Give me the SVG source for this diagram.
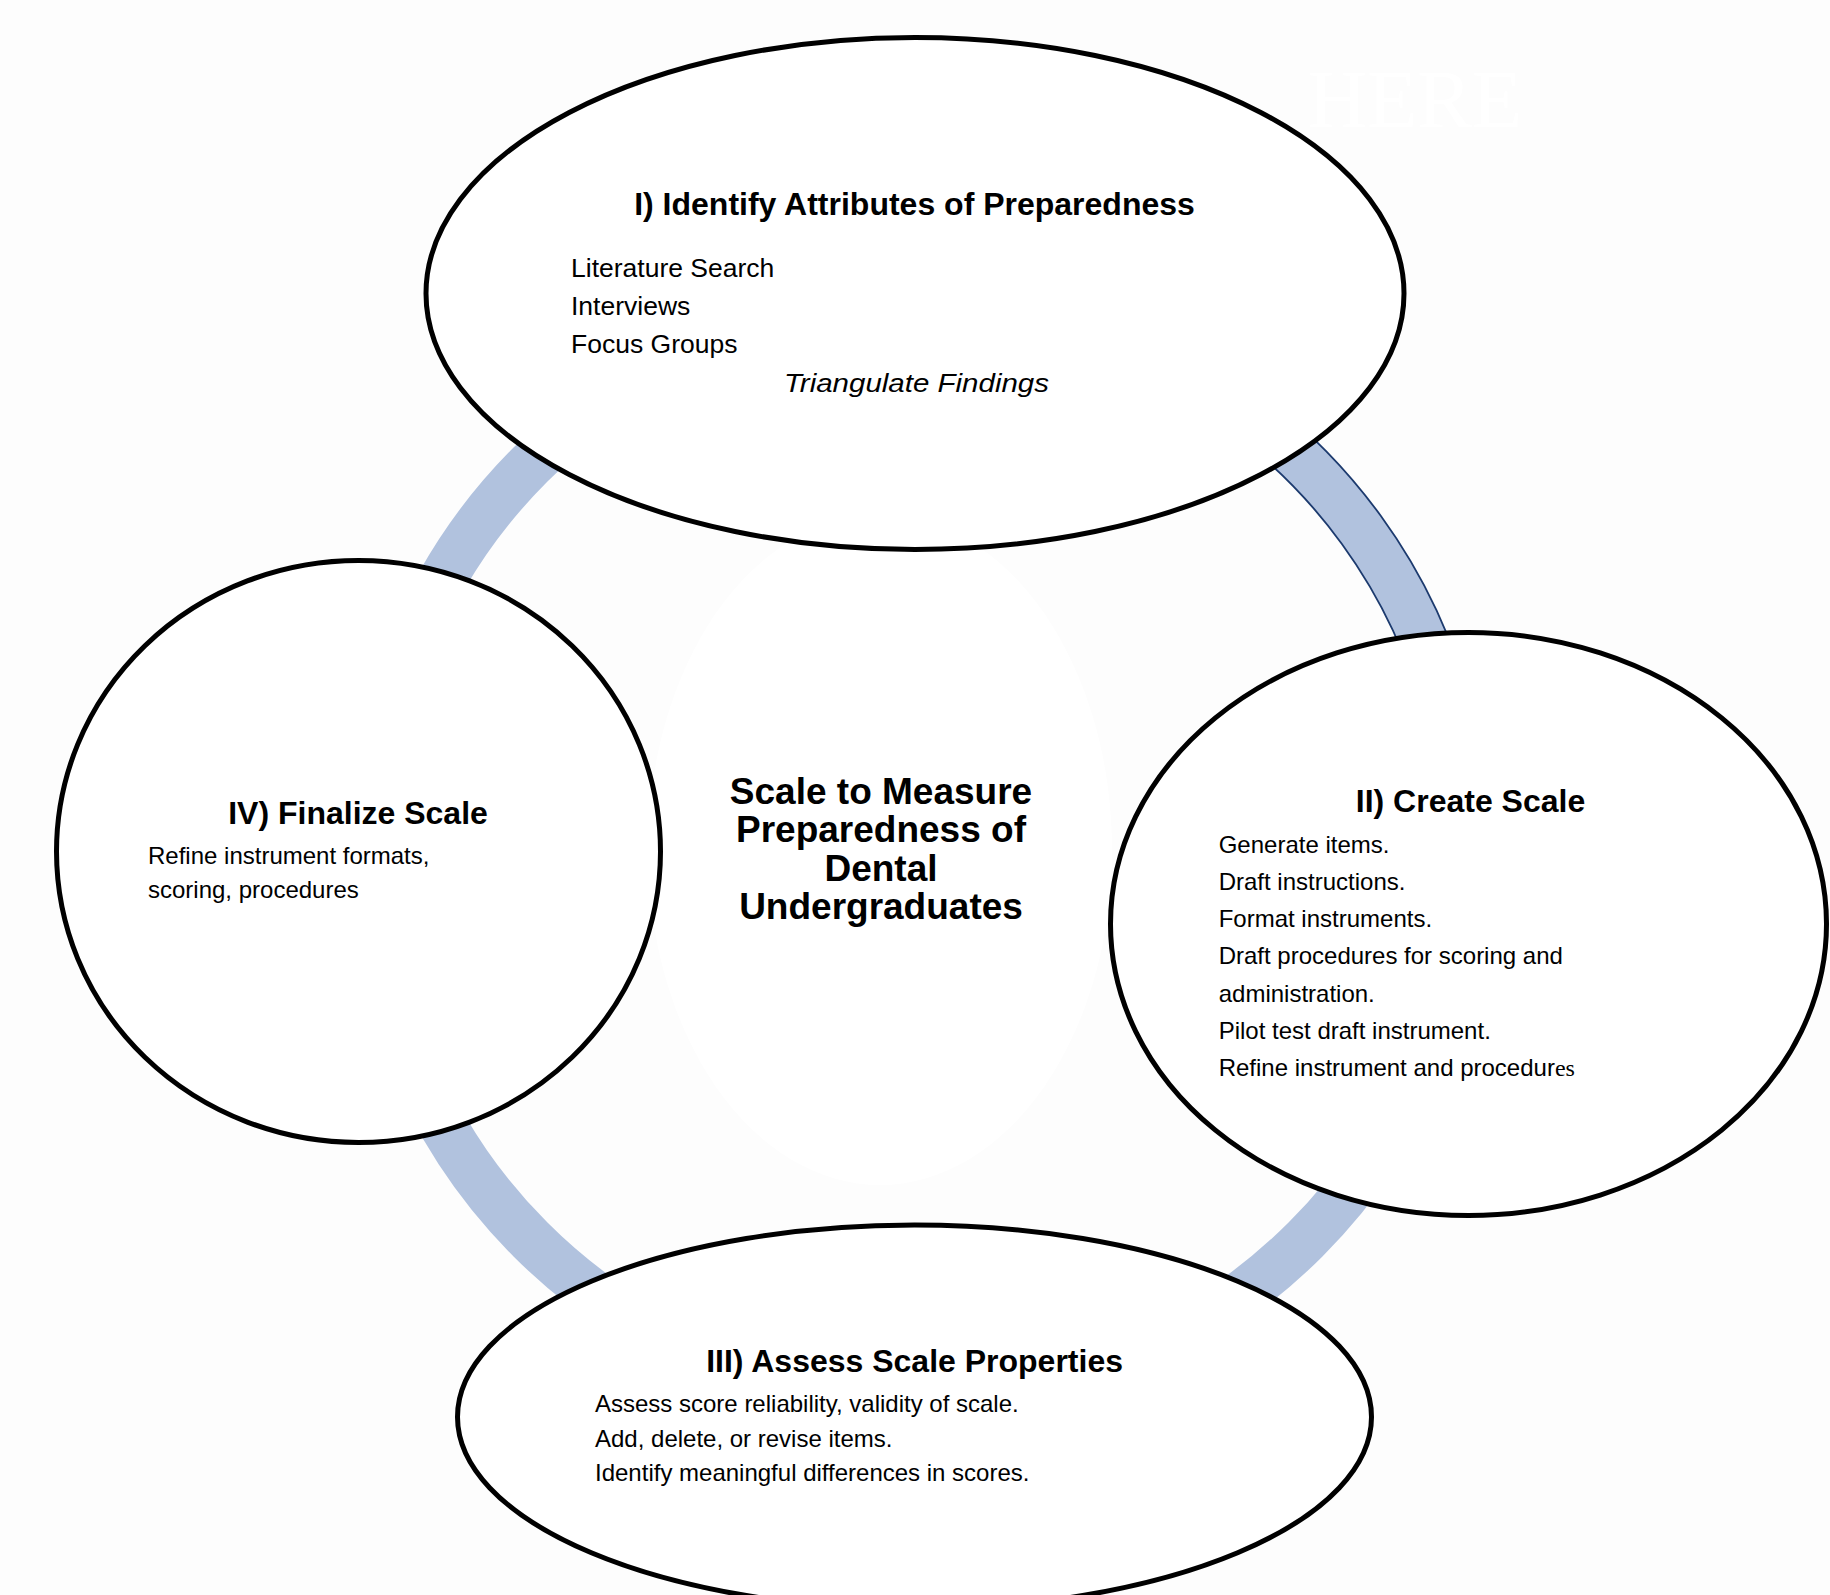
<svg xmlns="http://www.w3.org/2000/svg" width="1830" height="1595" viewBox="0 0 1830 1595">
  <style>
    .node { fill: #ffffff; stroke: #000000; stroke-width: 5; }
    .title { font-family: "Liberation Sans", Arial, sans-serif; font-weight: bold; font-size: 32px; fill: #000; text-anchor: middle; }
    .body { font-family: "Liberation Sans", Arial, sans-serif; font-size: 24px; fill: #000; }
    .body1 { font-family: "Liberation Sans", Arial, sans-serif; font-size: 26.5px; fill: #000; }
    .center { font-family: "Liberation Sans", Arial, sans-serif; font-weight: bold; font-size: 37px; fill: #000; text-anchor: middle; }
    .ring { fill: none; stroke: #b1c2de; stroke-width: 48; }
    .ring-edge { fill: none; stroke: #1c3a6e; stroke-width: 1.8; }
  </style>
  <rect x="0" y="0" width="1830" height="1595" fill="#fdfdfd"/>
  <text x="1308" y="127" font-family="'Liberation Serif', 'Times New Roman', serif" font-size="82" fill="#ffffff">HERE</text>

  <g id="hub">
    <ellipse cx="880" cy="850" rx="232" ry="335" fill="#ffffff"/>
  </g>

  <g id="connectors">
    <circle class="ring" cx="918" cy="852" r="548"/>
    <path class="ring-edge" d="M 1221.1 366.9 A 572 572 0 0 1 1473.0 713.6"/>
    <path class="ring-edge" d="M 1195.7 407.6 A 524 524 0 0 1 1426.4 725.2"/>
  </g>

  <g id="center-label">
    <text class="center" x="881" y="804">Scale to Measure</text>
    <text class="center" x="881" y="842">Preparedness of</text>
    <text class="center" x="881" y="880.5">Dental</text>
    <text class="center" x="881" y="918.5">Undergraduates</text>
  </g>

  <g id="node-1">
    <ellipse class="node" cx="915" cy="293.5" rx="489" ry="256"/>
    <text class="title" x="914.5" y="215">I) Identify Attributes of Preparedness</text>
    <text class="body1" x="571" y="276.5">Literature Search</text>
    <text class="body1" x="571" y="314.5">Interviews</text>
    <text class="body1" x="571" y="353">Focus Groups</text>
    <text class="body1" x="784" y="392" font-style="italic" font-size="31" textLength="265" lengthAdjust="spacingAndGlyphs">Triangulate Findings</text>
  </g>

  <g id="node-2">
    <ellipse class="node" cx="1468.5" cy="924" rx="358" ry="291.5"/>
    <text class="title" x="1470.5" y="812">II) Create Scale</text>
    <text class="body" x="1218.7" y="852.5">Generate items.</text>
    <text class="body" x="1218.7" y="889.5">Draft instructions.</text>
    <text class="body" x="1218.7" y="926.5">Format instruments.</text>
    <text class="body" x="1218.7" y="964">Draft procedures for scoring and</text>
    <text class="body" x="1218.7" y="1001.5">administration.</text>
    <text class="body" x="1218.7" y="1038.5">Pilot test draft instrument.</text>
    <text class="body" x="1218.7" y="1075.5">Refine instrument and procedur<tspan font-family="'Liberation Serif', 'Times New Roman', serif">es</tspan></text>
  </g>

  <g id="node-3">
    <ellipse class="node" cx="914.5" cy="1417" rx="457" ry="192"/>
    <text class="title" x="914.6" y="1372">III) Assess Scale Properties</text>
    <text class="body" x="595" y="1412">Assess score reliability, validity of scale.</text>
    <text class="body" x="595" y="1446.5">Add, delete, or revise items.</text>
    <text class="body" x="595" y="1481">Identify meaningful differences in scores.</text>
  </g>

  <g id="node-4">
    <ellipse class="node" cx="358.5" cy="851.5" rx="302" ry="291"/>
    <text class="title" x="358" y="824">IV) Finalize Scale</text>
    <text class="body" x="148" y="864">Refine instrument formats,</text>
    <text class="body" x="148" y="897.5">scoring, procedures</text>
  </g>
</svg>
